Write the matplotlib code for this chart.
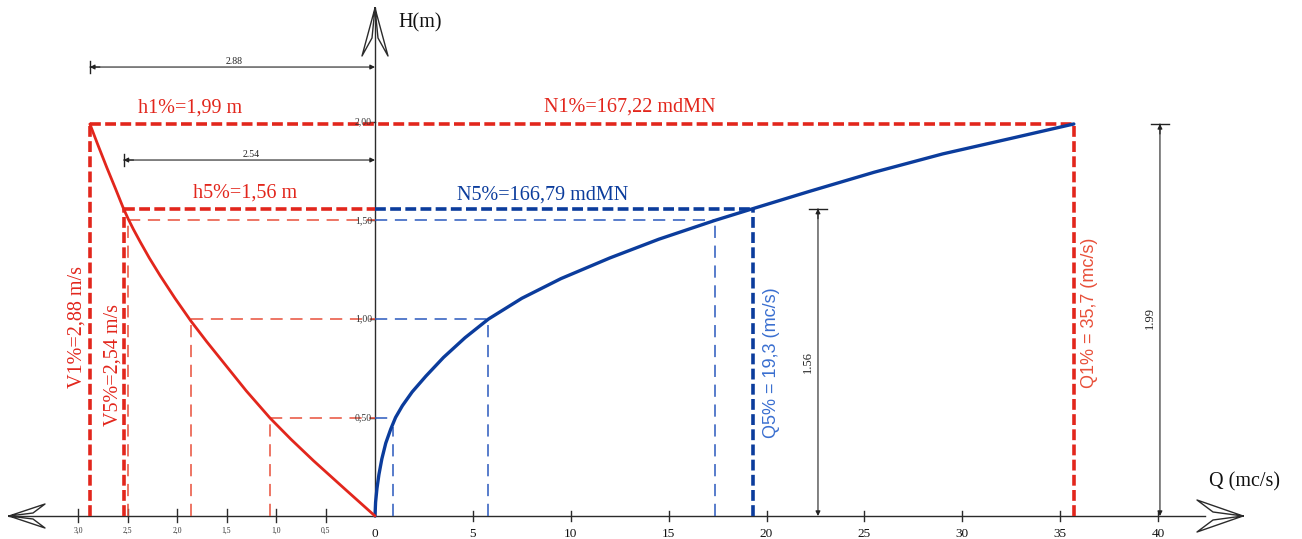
import numpy as np
import matplotlib.pyplot as plt

# rating curve H(Q), right side
q_curve = [0, 0.03, 0.10, 0.20, 0.35, 0.55, 0.80, 1.05, 1.40, 1.90, 2.60, 3.50, 4.60,
           5.80, 7.50, 9.50, 12.0, 14.5, 17.35, 19.3, 22.2, 25.5, 29.0, 32.5, 35.7]
h_q_curve = [0, 0.07, 0.14, 0.21, 0.29, 0.37, 0.44, 0.50, 0.56, 0.63, 0.71, 0.805, 0.905,
             1.00, 1.105, 1.205, 1.31, 1.405, 1.50, 1.56, 1.648, 1.745, 1.838, 1.917, 1.99]

# velocity curve H(V), left side
v_curve = [0, 0.30, 0.62, 0.85, 1.06, 1.30, 1.50, 1.70, 1.86, 2.02, 2.17, 2.28, 2.37,
           2.44, 2.49, 2.54, 2.62, 2.71, 2.80, 2.88]
h_v_curve = [0, 0.135, 0.28, 0.39, 0.497, 0.635, 0.76, 0.885, 0.99, 1.105, 1.22, 1.31, 1.39,
             1.455, 1.505, 1.56, 1.66, 1.77, 1.885, 1.99]

# reading lines at H = 0.5 / 1.0 / 1.5
read_h = [0.5, 1.0, 1.5]
read_q = [0.92, 5.77, 17.35]
read_v = [1.06, 1.86, 2.49]

# design values
h1, q1, v1 = 1.99, 35.7, 2.88
h5, q5, v5 = 1.56, 19.3, 2.54

q_ticks = [0, 5, 10, 15, 20, 25, 30, 35, 40]
v_ticks = [0.5, 1.0, 1.5, 2.0, 2.5, 3.0]
v_tick_labels = ['0,5', '1,0', '1,5', '2,0', '2,5', '3,0']
h_ticks = [0.5, 1.0, 1.5, 2.0]
h_tick_labels = ['0,50', '1,00', '1,50', '2,00']

RED = '#e2261c'
RED_T = '#e8503a'
BLUE = '#0b3c9c'
BLUE_T = '#2a58bd'
BLUE_TXT = '#3a6fd0'
INK = '#2b2b2b'
SERIF = 'Liberation Serif'
SANS = 'Liberation Sans'

# px per unit: Q axis 19.575, V axis 99, H axis 197
PX_Q, PX_V, PX_H = 19.575, 99.0, 197.0
KV = PX_V / PX_Q


def vx(v):
    # velocity is drawn to the left of the H axis
    return -KV * np.asarray(v, dtype=float)


fig = plt.figure(figsize=(13.02, 5.39), dpi=100)
ax = fig.add_axes([0, 0, 1, 1])
ax.set_xlim(-375 / PX_Q, (1302 - 375) / PX_Q)
ax.set_ylim(-(539 - 516) / PX_H, 516 / PX_H)
ax.axis('off')

dx = 1 / PX_Q   # one pixel in x
dy = 1 / PX_H   # one pixel in y

# axes lines and open arrowheads
ax.plot([-(375 - 9) * dx, (1205 - 375) * dx], [0, 0], color=INK, lw=1.0, zorder=2)
ax.plot([0, 0], [0, 508 * dy], color=INK, lw=1.0, zorder=2)


def arrow_head(tip, back, half, inner_back, inner_half, vertical=False):
    for s in (1, -1):
        if vertical:
            xs = [tip[0], tip[0] + s * half, tip[0] + s * inner_half, tip[0]]
            ys = [tip[1], tip[1] - back, tip[1] - inner_back, tip[1]]
        else:
            xs = [tip[0], tip[0] - back, tip[0] - inner_back, tip[0]]
            ys = [tip[1], tip[1] + s * half, tip[1] + s * inner_half, tip[1]]
        ax.plot(xs, ys, color=INK, lw=1.0, zorder=2)


arrow_head(((1243 - 375) * dx, 0), 46 * dx, 16 * dy, 30 * dx, 4 * dy)
arrow_head((-(375 - 9) * dx, 0), -36 * dx, 12 * dy, -24 * dx, 3 * dy)
arrow_head((0, 508 * dy), 48 * dy, 13 * dx, 30 * dy, 3 * dx, vertical=True)

# ticks
for q in q_ticks[1:]:
    ax.plot([q, q], [-5 * dy, 5 * dy], color=INK, lw=1.0)
for q in q_ticks:
    ax.text(q, -18 * dy, str(q), ha='center', va='center', fontsize=9.5,
            family=SERIF, color='#111')
for v, lab in zip(v_ticks, v_tick_labels):
    ax.plot([vx(v), vx(v)], [-6 * dy, 7 * dy], color=INK, lw=1.0)
    ax.text(vx(v), -15 * dy, lab, ha='center', va='center', fontsize=5.5,
            family=SERIF, color='#333')
for h, lab in zip(h_ticks, h_tick_labels):
    ax.plot([-5 * dx, 0], [h, h], color=INK, lw=1.0)
    ax.text(-3 * dx, h, lab, ha='right', va='center', fontsize=7,
            family=SERIF, color='#333', zorder=5)

# thin reading lines
thin = dict(lw=1.1, dashes=(8, 5))
for h, q, v in zip(read_h, read_q, read_v):
    ax.plot([vx(v), 0], [h, h], color=RED_T, **thin)
    ax.plot([vx(v), vx(v)], [0, h], color=RED_T, **thin)
    ax.plot([0, q], [h, h], color=BLUE_T, **thin)
    # the first vertical stops just under the curve
    ax.plot([q, q], [0, h - 0.05 if h == 0.5 else h], color=BLUE_T, **thin)

# design levels (thick dashed)
thick = dict(lw=2.6, dashes=(3.0, 1.2))
ax.plot([vx(v1), q1], [h1, h1], color=RED, zorder=3, **thick)
ax.plot([vx(v1), vx(v1)], [0, h1], color=RED, zorder=3, **thick)
ax.plot([q1, q1], [0, h1], color=RED, zorder=3, **thick)
ax.plot([vx(v5), 0], [h5, h5], color=RED, zorder=3, **thick)
ax.plot([vx(v5), vx(v5)], [0, h5], color=RED, zorder=3, **thick)
ax.plot([0, q5], [h5, h5], color=BLUE, zorder=3, **thick)
ax.plot([q5, q5], [0, h5], color=BLUE, zorder=3, **thick)

# curves
ax.plot(q_curve, h_q_curve, color=BLUE, lw=2.4, solid_capstyle='round',
        solid_joinstyle='round', zorder=4)
ax.plot(vx(v_curve), h_v_curve, color=RED, lw=2.0, solid_capstyle='round',
        solid_joinstyle='round', zorder=4)

# dimension lines
dim = dict(arrowstyle='-|>', lw=0.8, color='#222', mutation_scale=7,
           shrinkA=0, shrinkB=0)
for v, y, lab, ty in [(v1, 2.279, '2.88', 2.305), (v5, 1.807, '2.54', 1.835)]:
    ax.annotate('', xy=(0, y), xytext=(float(vx(v)), y), arrowprops=dim)
    ax.annotate('', xy=(float(vx(v)), y), xytext=(float(vx(v)) + 10 * dx, y),
                arrowprops=dim)
    ax.plot([vx(v), vx(v)], [y - 6 * dy, y + 6 * dy], color='#222', lw=1.0)
    ax.text(vx(v) / 2 + 2 * dx, ty, lab, ha='center', va='center', fontsize=7,
            family=SERIF, color='#222')
for q, top, lab, tq, th in [(22.63, h5, '1.56', 22.12, 0.78), (40.1, h1, '1.99', 39.59, 1.005)]:
    ax.annotate('', xy=(q, 0), xytext=(q, top), arrowprops=dim)
    ax.annotate('', xy=(q, top), xytext=(q, top - 10 * dy), arrowprops=dim)
    ax.plot([q - 9 * dx, q + 9 * dx], [top, top], color='#222', lw=1.0)
    ax.text(tq, th, lab, ha='center', va='center', rotation=90, fontsize=9,
            family=SERIF, color='#222')

# labels
big = dict(fontsize=14.5, family=SERIF, ha='center', va='center')
ax.text(vx(1.87), 2.071, 'h1%=1,99 m', color=RED, **big)
ax.text(13.03, 2.076, 'N1%=167,22 mdMN', color=RED, **big)
ax.text(vx(1.313), 1.64, 'h5%=1,56 m', color=RED, **big)
ax.text(8.58, 1.63, 'N5%=166,79 mdMN', color=BLUE, **big)
ax.text(vx(3.01), 0.959, 'V1%=2,88 m/s', color=RED, rotation=90, **big)
ax.text(vx(2.646), 0.766, 'V5%=2,54 m/s', color=RED, rotation=90, **big)
ax.text(20.28, 0.777, 'Q5% = 19,3 (mc/s)', color=BLUE_TXT, rotation=90,
        fontsize=13, family=SANS, ha='center', va='center')
ax.text(36.48, 1.03, 'Q1% = 35,7 (mc/s)', color=RED_T, rotation=90,
        fontsize=13, family=SANS, ha='center', va='center')
ax.text(2.30, 2.503, 'H(m)', color='#111', **big)
ax.text((1209 - 375) * dx, 0.173, 'Q (mc/s)', color='#111', fontsize=14.5,
        family=SERIF, ha='left', va='center')

fig.savefig('out.png', dpi=100)
